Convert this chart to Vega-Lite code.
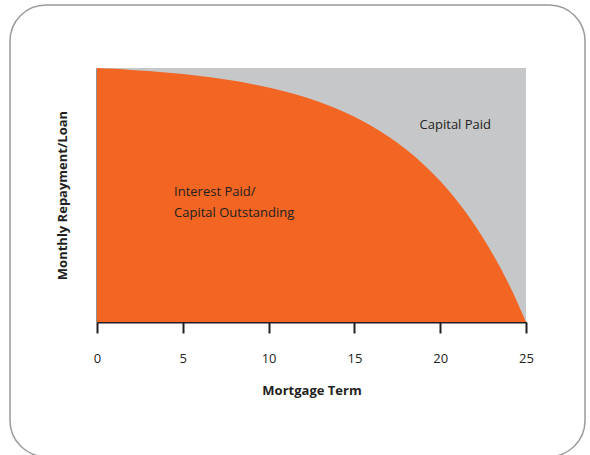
{
  "$schema": "https://vega.github.io/schema/vega-lite/v6.json",
  "width": 429,
  "height": 254,
  "autosize": {"type": "none"},
  "padding": {"left": 97, "top": 68, "right": 64, "bottom": 133},
  "background": "white",
  "config": {
    "view": {"fill": "#c6c7c9", "stroke": null},
    "font": "Open Sans"
  },
  "datasets": {
    "balance": [
      {"term": 0, "share": 1.0},
      {"term": 1, "share": 0.9966},
      {"term": 2, "share": 0.9926},
      {"term": 3, "share": 0.9879},
      {"term": 4, "share": 0.9824},
      {"term": 5, "share": 0.976},
      {"term": 6, "share": 0.9685},
      {"term": 7, "share": 0.9597},
      {"term": 8, "share": 0.9495},
      {"term": 9, "share": 0.9374},
      {"term": 10, "share": 0.9233},
      {"term": 11, "share": 0.9069},
      {"term": 12, "share": 0.8876},
      {"term": 13, "share": 0.8651},
      {"term": 14, "share": 0.8388},
      {"term": 15, "share": 0.8079},
      {"term": 16, "share": 0.7719},
      {"term": 17, "share": 0.7296},
      {"term": 18, "share": 0.6802},
      {"term": 19, "share": 0.6224},
      {"term": 20, "share": 0.5549},
      {"term": 21, "share": 0.4758},
      {"term": 22, "share": 0.3832},
      {"term": 22.5, "share": 0.3312},
      {"term": 23, "share": 0.275},
      {"term": 23.5, "share": 0.2141},
      {"term": 24, "share": 0.1483},
      {"term": 24.5, "share": 0.0771},
      {"term": 25, "share": 0.0}
    ],
    "labels": [
      {"term": 18.8, "share": 0.776, "text": "Capital Paid"},
      {"term": 4.49, "share": 0.512, "text": "Interest Paid/"},
      {"term": 4.49, "share": 0.429, "text": "Capital Outstanding"}
    ],
    "frame": [
      {"x0": -5.07, "x1": 28.44, "y0": -0.53, "y1": 1.248}
    ]
  },
  "layer": [
    {
      "data": {"name": "frame"},
      "mark": {"type": "rect", "filled": false, "color": "#9a9a9a", "strokeWidth": 1.5, "cornerRadius": 36, "clip": false},
      "encoding": {
        "x": {"field": "x0", "type": "quantitative", "scale": {"domain": [0, 25], "nice": false, "zero": false}},
        "x2": {"field": "x1"},
        "y": {"field": "y1", "type": "quantitative", "scale": {"domain": [0, 1], "nice": false}},
        "y2": {"field": "y0"}
      }
    },
    {
      "data": {"name": "balance"},
      "mark": {"type": "area", "color": "#f26522", "interpolate": "monotone"},
      "encoding": {
        "x": {
          "field": "term", "type": "quantitative",
          "scale": {"domain": [0, 25], "nice": false, "zero": false},
          "axis": {
            "values": [0, 5, 10, 15, 20, 25],
            "grid": false,
            "domainColor": "#231f20", "domainWidth": 2,
            "tickColor": "#231f20", "tickWidth": 2, "tickSize": 11,
            "labelFontSize": 13, "labelColor": "#231f20", "labelPadding": 19,
            "labelFont": "Open Sans", "labelFlush": false,
            "title": "Mortgage Term",
            "titleFontSize": 13, "titleFontWeight": "bold", "titleColor": "#231f20",
            "titleFont": "Open Sans", "titlePadding": 19
          }
        },
        "y": {
          "field": "share", "type": "quantitative",
          "scale": {"domain": [0, 1], "nice": false},
          "axis": {
            "grid": false, "ticks": false, "labels": false,
            "domainColor": "#231f20", "domainWidth": 2,
            "title": "Monthly Repayment/Loan",
            "titleFontSize": 13, "titleFontWeight": "bold", "titleColor": "#231f20",
            "titleFont": "Open Sans", "titlePadding": 28
          }
        }
      }
    },
    {
      "mark": {"type": "rule", "color": "#333333", "strokeWidth": 1.5},
      "encoding": {
        "x": {"datum": 25, "type": "quantitative"},
        "y": {"datum": 0, "type": "quantitative"},
        "y2": {"datum": 1}
      }
    },
    {
      "data": {"name": "labels"},
      "mark": {"type": "text", "align": "left", "baseline": "middle", "fontSize": 13, "color": "#231f20", "font": "Open Sans"},
      "encoding": {
        "x": {"field": "term", "type": "quantitative"},
        "y": {"field": "share", "type": "quantitative"},
        "text": {"field": "text"}
      }
    }
  ]
}
